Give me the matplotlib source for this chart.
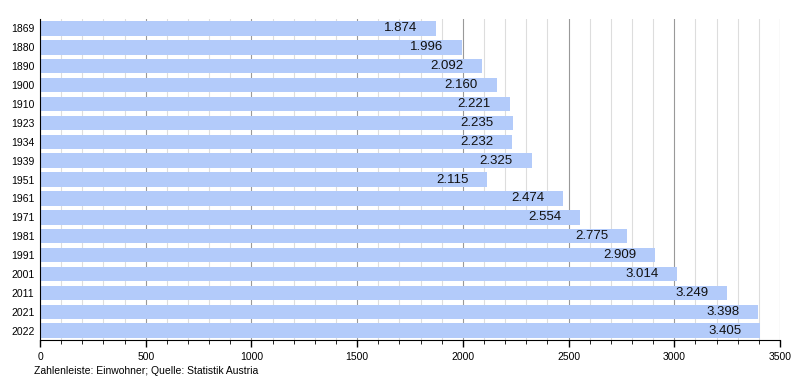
import matplotlib
matplotlib.use('Agg')
import matplotlib.pyplot as plt
from matplotlib.ticker import MultipleLocator

plt.rcParams['font.family'] = ['Liberation Sans', 'DejaVu Sans']

years = ['1869', '1880', '1890', '1900', '1910', '1923', '1934', '1939', '1951',
         '1961', '1971', '1981', '1991', '2001', '2011', '2021', '2022']
population = [1874, 1996, 2092, 2160, 2221, 2235, 2232, 2325, 2115,
              2474, 2554, 2775, 2909, 3014, 3249, 3398, 3405]
value_labels = ['1.874', '1.996', '2.092', '2.160', '2.221', '2.235', '2.232', '2.325', '2.115',
                '2.474', '2.554', '2.775', '2.909', '3.014', '3.249', '3.398', '3.405']

fig = plt.figure(figsize=(8, 3.8), dpi=100)
ax = fig.add_axes([0.05, 0.105, 0.925, 0.845])

ypos = list(range(len(years)))
ax.barh(ypos, population, height=0.76, color='#b3cbfa', zorder=2)

for y, v, lab in zip(ypos, population, value_labels):
    ax.annotate(lab, (v, y), xytext=(-13.5, 0), textcoords='offset points',
                ha='right', va='center', fontsize=9.5, color='#111111', zorder=3)

ax.set_yticks(ypos)
ax.set_yticklabels(years, fontsize=7.5)
ax.set_ylim(len(years) - 0.5, -0.5)
ax.set_xlim(0, 3500)
ax.xaxis.set_major_locator(MultipleLocator(500))
ax.xaxis.set_minor_locator(MultipleLocator(100))
ax.tick_params(axis='x', labelsize=7.5, length=5, width=1)
ax.tick_params(axis='x', which='minor', length=3)
ax.tick_params(axis='y', length=0, pad=4)

ax.grid(axis='x', which='major', color='#999999', linewidth=0.8, zorder=0)
ax.grid(axis='x', which='minor', color='#dddddd', linewidth=0.8, zorder=0)
ax.set_axisbelow(True)

for s in ['top', 'right']:
    ax.spines[s].set_visible(False)
ax.spines['left'].set_color('black')
ax.spines['bottom'].set_color('black')

fig.text(0.043, 0.015, 'Zahlenleiste: Einwohner; Quelle: Statistik Austria', fontsize=7.5)

plt.savefig('out.png', dpi=100)
